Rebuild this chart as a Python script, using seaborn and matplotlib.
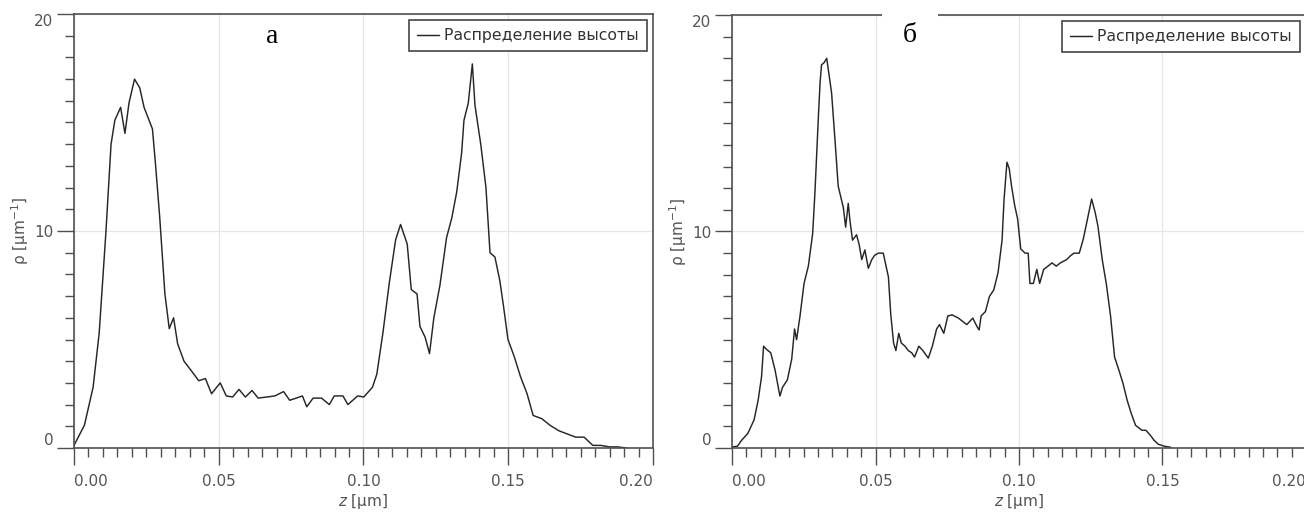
import numpy as np
import pandas as pd
import matplotlib
matplotlib.use("Agg")
import matplotlib.pyplot as plt
from matplotlib.ticker import MultipleLocator
import seaborn as sns

# ---------------- data ----------------
z_a = [0.0, 0.0036, 0.0066, 0.0087, 0.0110, 0.0128, 0.0141, 0.0161, 0.0176, 0.0190,
       0.0209, 0.0227, 0.0242, 0.0271, 0.0282, 0.0296, 0.0314, 0.0329, 0.0344, 0.0358,
       0.0380, 0.0403, 0.0431, 0.0454, 0.0475, 0.0505, 0.0526, 0.0548, 0.0570, 0.0592,
       0.0615, 0.0636, 0.0666, 0.0694, 0.0724, 0.0745, 0.0768, 0.0789, 0.0804, 0.0826,
       0.0855, 0.0882, 0.0899, 0.0929, 0.0946, 0.0980, 0.1001, 0.1031, 0.1046, 0.1067,
       0.1089, 0.1111, 0.1128, 0.1151, 0.1165, 0.1185, 0.1195, 0.1213, 0.1228, 0.1243,
       0.1264, 0.1287, 0.1305, 0.1322, 0.1339, 0.1347, 0.1362, 0.1376, 0.1385, 0.1405,
       0.1423, 0.1437, 0.1454, 0.1471, 0.1484, 0.1499, 0.1521, 0.1542, 0.1565, 0.1586,
       0.1616, 0.1644, 0.1674, 0.1703, 0.1733, 0.1762, 0.1792, 0.1820, 0.1850, 0.1879,
       0.1908]
rho_a = [0.12, 1.05, 2.8, 5.3, 9.9, 14.0, 15.1, 15.7, 14.5, 15.9,
         17.0, 16.6, 15.7, 14.7, 13.0, 10.65, 7.1, 5.5, 6.0, 4.8,
         4.0, 3.6, 3.1, 3.2, 2.5, 3.0, 2.4, 2.35, 2.7, 2.35,
         2.65, 2.3, 2.35, 2.4, 2.6, 2.2, 2.3, 2.4, 1.9, 2.3,
         2.3, 2.0, 2.4, 2.4, 2.0, 2.4, 2.35, 2.8, 3.4, 5.3,
         7.6, 9.6, 10.3, 9.4, 7.3, 7.1, 5.6, 5.1, 4.35, 6.0,
         7.5, 9.7, 10.6, 11.8, 13.6, 15.1, 15.9, 17.7, 15.8, 14.0,
         12.0, 9.0, 8.8, 7.7, 6.5, 5.0, 4.2, 3.3, 2.5, 1.5,
         1.35, 1.05, 0.8, 0.65, 0.5, 0.5, 0.12, 0.12, 0.05, 0.05,
         0.0]

z_b = [0.0, 0.0019, 0.0033, 0.0055, 0.0077, 0.0091, 0.0103, 0.011, 0.0121, 0.0135,
       0.015, 0.0167, 0.0176, 0.0193, 0.0208, 0.0218, 0.0225, 0.0237, 0.0251, 0.0266,
       0.0281, 0.0289, 0.0301, 0.0307, 0.0312, 0.0321, 0.0330, 0.0347, 0.0359, 0.0370,
       0.0388, 0.0396, 0.0405, 0.0411, 0.0420, 0.0434, 0.0443, 0.0452, 0.0463, 0.0475,
       0.0487, 0.0497, 0.0510, 0.0527, 0.0545, 0.0553, 0.0563, 0.0571, 0.0581, 0.059,
       0.0603, 0.0614, 0.0626, 0.0636, 0.0651, 0.0665, 0.0684, 0.0698, 0.0713, 0.0723,
       0.0738, 0.0752, 0.0767, 0.0789, 0.0818, 0.0839, 0.0854, 0.0861, 0.0868, 0.0883,
       0.0897, 0.0912, 0.0927, 0.0941, 0.0948, 0.0958, 0.0966, 0.0974, 0.0985, 0.0995,
       0.1006, 0.1021, 0.1032, 0.1038, 0.105, 0.1062, 0.1072, 0.1086, 0.1101, 0.1115,
       0.113, 0.1144, 0.1166, 0.1181, 0.1192, 0.121, 0.1224, 0.1239, 0.1253, 0.1265,
       0.1275, 0.129, 0.1304, 0.1319, 0.1333, 0.1348, 0.1362, 0.1377, 0.1391, 0.1406,
       0.1428, 0.1442, 0.1457, 0.1471, 0.1486, 0.1507, 0.1529]
rho_b = [0.05, 0.08, 0.35, 0.67, 1.3, 2.2, 3.3, 4.7, 4.55, 4.4,
         3.6, 2.4, 2.8, 3.15, 4.1, 5.5, 5.0, 6.1, 7.6, 8.4,
         9.9, 11.8, 15.3, 16.9, 17.7, 17.8, 18.0, 16.4, 14.2, 12.1,
         11.1, 10.2, 11.3, 10.5, 9.6, 9.85, 9.4, 8.7, 9.15, 8.3,
         8.7, 8.9, 9.0, 9.0, 7.9, 6.2, 4.85, 4.5, 5.3, 4.85,
         4.7, 4.5, 4.4, 4.2, 4.7, 4.5, 4.15, 4.7, 5.5, 5.7,
         5.3, 6.1, 6.15, 6.0, 5.7, 6.0, 5.6, 5.45, 6.1, 6.3,
         7.0, 7.3, 8.1, 9.6, 11.5, 13.2, 12.9, 12.1, 11.2, 10.6,
         9.2, 9.0, 9.0, 7.6, 7.6, 8.25, 7.6, 8.25, 8.4, 8.55,
         8.4, 8.55, 8.7, 8.9, 9.0, 9.0, 9.65, 10.6, 11.5, 10.9,
         10.25, 8.7, 7.6, 6.1, 4.2, 3.6, 3.0, 2.2, 1.6, 1.05,
         0.82, 0.82, 0.6, 0.35, 0.17, 0.08, 0.03]

x_ticks = [0.00, 0.05, 0.10, 0.15, 0.20]
x_tick_labels = ["0.00", "0.05", "0.10", "0.15", "0.20"]
y_ticks = [0, 10, 20]
y_tick_labels = ["0", "10", "20"]
series_name = "Распределение высоты"
panel_labels = ["а", "б"]
x_label = r"$z$ [μm]"
y_label = r"ρ [μm$^{-1}$]"

# ---------------- style ----------------
sns.set_style("white")
plt.rcParams["font.family"] = ["DejaVu Sans"]
plt.rcParams["mathtext.fontset"] = "dejavusans"

W, H = 1304, 512
fig = plt.figure(figsize=(W / 100, H / 100), dpi=100)

spine_col = "#505050"
text_col = "#555555"
line_col = "#262626"

axes_px = [(74, 14, 653, 448), (732, 15, 1306, 448)]
datasets = [(z_a, rho_a), (z_b, rho_b)]
label_pos = [(0.342, 0.948), (0.31, 0.952)]

for i, ((x0, y0, x1, y1), (zz, rr)) in enumerate(zip(axes_px, datasets)):
    ax = fig.add_axes([x0 / W, (H - y1) / H, (x1 - x0) / W, (y1 - y0) / H])
    df = pd.DataFrame({"z": zz, "rho": rr, "s": series_name})
    sns.lineplot(data=df, x="z", y="rho", hue="s", palette=[line_col],
                 sort=False, estimator=None, linewidth=1.05, ax=ax)
    ax.set_xlim(0, 0.20)
    ax.set_ylim(0, 20)
    ax.set_xticks(x_ticks)
    ax.set_xticklabels(x_tick_labels)
    ax.set_yticks(y_ticks)
    ax.set_yticklabels(y_tick_labels)
    ax.xaxis.set_minor_locator(MultipleLocator(0.005))
    ax.yaxis.set_minor_locator(MultipleLocator(1))
    ax.tick_params(which="major", direction="out", length=12, width=1.0,
                   color=spine_col, labelcolor=text_col, labelsize=11)
    ax.tick_params(axis="x", which="major", pad=7)
    ax.tick_params(axis="y", which="major", pad=3)
    ax.tick_params(which="minor", direction="out", length=6.5, width=1.0,
                   color=spine_col)
    ax.tick_params(bottom=True, left=True, which="both")
    xl = ax.get_xticklabels()
    xl[0].set_ha("left")
    xl[-1].set_ha("right")
    yl = ax.get_yticklabels()
    yl[0].set_va("bottom")
    yl[-1].set_va("top")
    for sp in ax.spines.values():
        sp.set_color(spine_col)
        sp.set_linewidth(1.2)
    ax.grid(True, which="major", color="#e6e6e6", linewidth=0.9)
    ax.set_axisbelow(True)
    ax.set_xlabel(x_label, fontsize=11, color=text_col, labelpad=2)
    ax.set_ylabel(y_label, fontsize=11, color=text_col, labelpad=2)
    leg = ax.legend(loc="upper right", bbox_to_anchor=(1, 1), borderaxespad=0.4,
                    fontsize=11.3, frameon=True, fancybox=False, handlelength=1.4,
                    handletextpad=0.35, borderpad=0.5, framealpha=1)
    leg.get_frame().set_edgecolor("#454545")
    leg.get_frame().set_linewidth(1.2)
    for t in leg.get_texts():
        t.set_color("#333333")
    bbox = None
    if i == 1:
        bbox = dict(boxstyle="square,pad=0.75", facecolor="white", edgecolor="none")
    ax.text(label_pos[i][0], label_pos[i][1], panel_labels[i], transform=ax.transAxes,
            ha="center", va="center", fontsize=20, family="Liberation Serif",
            color="black", bbox=bbox, zorder=6, clip_on=False)

fig.savefig("out.png", dpi=100)
